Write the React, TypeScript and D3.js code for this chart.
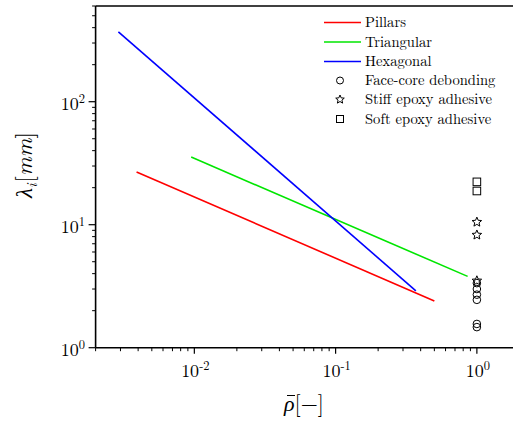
import React from 'react';
import * as d3 from 'd3';

// lines (rho, lambda) endpoints
const pillarsRho = [0.0039, 0.5];
const pillarsLam = [26.8, 2.4];
const triangularRho = [0.0095, 0.86];
const triangularLam = [35.5, 3.8];
const hexagonalRho = [0.0029, 0.37];
const hexagonalLam = [370, 2.9];

// experiments, all at rho = 1
const debondingLam = [3.35, 3.0, 2.7, 2.45, 1.56, 1.47];
const stiffLam = [10.5, 8.25, 3.5];
const softLam = [22.3, 18.8];

const xTickExp = [-2, -1, 0];
const yTickExp = [0, 1, 2];

const legendNames = ['Face-core debonding', 'Stiff epoxy adhesive', 'Soft epoxy adhesive'];

const FONT = '"Latin Modern Roman", "Liberation Serif", serif';

function starPath(r: number) {
  const pts: string[] = [];
  for (let i = 0; i < 10; i++) {
    const rr = i % 2 === 0 ? r : r * 0.45;
    const a = -Math.PI / 2 + (i * Math.PI) / 5;
    pts.push(`${(rr * Math.cos(a)).toFixed(2)},${(rr * Math.sin(a)).toFixed(2)}`);
  }
  return 'M' + pts.join('L') + 'Z';
}

export default function App() {
  const width = 513,
    height = 421;
  const x = d3.scaleLog().domain([0.002, 2]).range([95.6, 519.4]);
  const y = d3.scaleLog().domain([1, 600]).range([347.7, 6]);
  const left = 95.6,
    bottom = 347.7,
    top = 6;

  const line = d3
    .line<[number, number]>()
    .x((d) => x(d[0]))
    .y((d) => y(d[1]));

  const series = [
    { name: 'Pillars', color: '#ff0000', rho: pillarsRho, lam: pillarsLam },
    { name: 'Triangular', color: '#00e600', rho: triangularRho, lam: triangularLam },
    { name: 'Hexagonal', color: '#0000ff', rho: hexagonalRho, lam: hexagonalLam },
  ];

  // minor ticks
  const xMinor: number[] = [];
  for (let e = -3; e <= 0; e++) for (let k = 2; k <= 9; k++) {
    const v = k * Math.pow(10, e);
    if (v >= 0.002 && v <= 2) xMinor.push(v);
  }
  const yMinor: number[] = [];
  for (let e = 0; e <= 2; e++) for (let k = 2; k <= 9; k++) {
    const v = k * Math.pow(10, e);
    if (v <= 600) yMinor.push(v);
  }

  const star = starPath(5);
  const legendX = 324;
  const legendRows = [22.5, 42, 61.5, 80.5, 99.5, 119];
  const txt = { fontFamily: FONT };

  return (
    <div style={{ position: 'absolute', left: 0, top: 0 }}>
      <svg width={width} height={height} style={{ display: 'block', background: '#fff' }}>
        {/* data lines */}
        {series.map((s) => (
          <path
            key={s.name}
            d={line(s.rho.map((r, i) => [r, s.lam[i]] as [number, number])) || ''}
            fill="none"
            stroke={s.color}
            strokeWidth={1.6}
          />
        ))}
        {/* markers */}
        {debondingLam.map((v, i) => (
          <circle key={'c' + i} cx={x(1)} cy={y(v)} r={3.8} fill="none" stroke="#000" strokeWidth={1} />
        ))}
        {stiffLam.map((v, i) => (
          <path key={'s' + i} d={star} transform={`translate(${x(1)},${y(v)})`} fill="none" stroke="#000" strokeWidth={1} />
        ))}
        {softLam.map((v, i) => (
          <rect key={'q' + i} x={x(1) - 3.8} y={y(v) - 3.8} width={7.6} height={7.6} fill="none" stroke="#000" strokeWidth={1} />
        ))}

        {/* frame */}
        <line x1={left} x2={width} y1={top} y2={top} stroke="#000" strokeWidth={1.6} />
        <line x1={left} x2={left} y1={top} y2={bottom} stroke="#000" strokeWidth={1.6} />
        <line x1={left} x2={width} y1={bottom} y2={bottom} stroke="#000" strokeWidth={1.6} />

        {/* x ticks */}
        {xMinor.map((v) => (
          <line key={'xm' + v} x1={x(v)} x2={x(v)} y1={bottom} y2={bottom + 3.5} stroke="#000" strokeWidth={1} />
        ))}
        {xTickExp.map((e) => (
          <g key={'xt' + e}>
            <line x1={x(Math.pow(10, e))} x2={x(Math.pow(10, e))} y1={bottom} y2={bottom + 6} stroke="#000" strokeWidth={1.2} />
            <text x={x(Math.pow(10, e)) + 1} y={377} textAnchor="middle" style={{ ...txt, fontSize: 18 }}>
              10
              <tspan dy={-7} style={{ fontSize: 12.5 }}>
                {e === 0 ? '0' : String(e)}
              </tspan>
            </text>
          </g>
        ))}

        {/* y ticks */}
        {yMinor.map((v) => (
          <line key={'ym' + v} x1={left - 3.5} x2={left} y1={y(v)} y2={y(v)} stroke="#000" strokeWidth={1} />
        ))}
        {yTickExp.map((e) => (
          <g key={'yt' + e}>
            <line x1={left - 7} x2={left} y1={y(Math.pow(10, e))} y2={y(Math.pow(10, e))} stroke="#000" strokeWidth={1.2} />
            <text x={85} y={y(Math.pow(10, e)) + 8} textAnchor="end" style={{ ...txt, fontSize: 18 }}>
              10
              <tspan dy={-7} style={{ fontSize: 12.5 }}>
                {String(e)}
              </tspan>
            </text>
          </g>
        ))}

        {/* axis titles */}
        <text x={284} y={411} style={{ ...txt, fontSize: 22 }}>
          <tspan style={{ fontStyle: 'italic' }}>ρ</tspan>[−]
        </text>
        <line x1={287} x2={295} y1={395.5} y2={395.5} stroke="#000" strokeWidth={1} />
        <text transform="translate(32,165) rotate(-90)" textAnchor="middle" style={{ ...txt, fontSize: 23 }}>
          <tspan style={{ fontStyle: 'italic' }}>λ</tspan>
          <tspan style={{ fontStyle: 'italic', fontSize: 15 }} dy={5}>i</tspan>
          <tspan dy={-5} dx={1}>[</tspan>
          <tspan style={{ fontStyle: 'italic' }}>mm</tspan>]
        </text>

        {/* legend */}
        {series.map((s, i) => (
          <g key={'l' + s.name}>
            <line x1={legendX} x2={legendX + 37} y1={legendRows[i]} y2={legendRows[i]} stroke={s.color} strokeWidth={1.6} />
            <text x={365} y={legendRows[i] + 4.5} style={{ ...txt, fontSize: 14.6 }}>
              {s.name}
            </text>
          </g>
        ))}
        <circle cx={340} cy={legendRows[3]} r={3.5} fill="none" stroke="#000" strokeWidth={1} />
        <path d={starPath(4.5)} transform={`translate(340,${legendRows[4]})`} fill="none" stroke="#000" strokeWidth={1} />
        <rect x={336.5} y={legendRows[5] - 3.5} width={7} height={7} fill="none" stroke="#000" strokeWidth={1} />
        {legendNames.map((t, i) => (
          <text key={t} x={365} y={legendRows[3 + i] + 4.5} style={{ ...txt, fontSize: 14.6 }}>
            {t}
          </text>
        ))}
      </svg>
    </div>
  );
}
